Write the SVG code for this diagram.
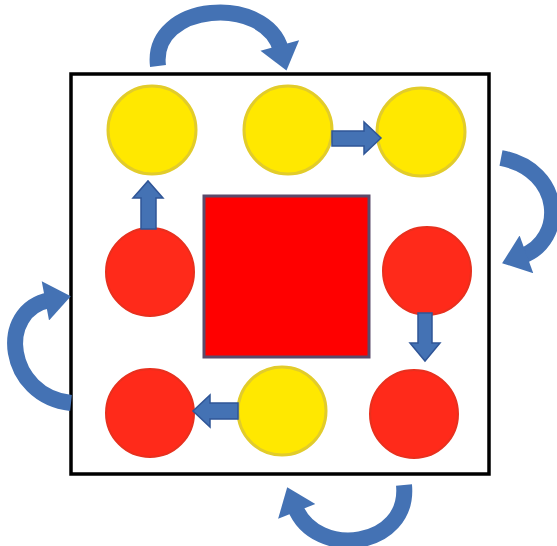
<svg xmlns="http://www.w3.org/2000/svg" width="557" height="546" viewBox="0 0 557 546">
<defs>
<style>
.y{fill:#ffe800;stroke:#e2cc2a;stroke-width:3}
.r{fill:#ff2a1a;stroke:#e8301e;stroke-width:2}
.arc{fill:none;stroke:#4472b4;stroke-width:16;stroke-linecap:butt}
.sa{fill:#4472b4;stroke:#2f5597;stroke-width:1.5}
</style>
<marker id="ah" markerUnits="userSpaceOnUse" markerWidth="40" markerHeight="40" refX="4" refY="17" orient="auto" viewBox="0 0 24 34">
<path d="M0,0 L22,17 L0,34 Z" fill="#4472b4"/>
</marker>
</defs>
<rect width="557" height="546" fill="#ffffff"/>
<rect id="frame" x="71" y="74" width="418" height="400" fill="none" stroke="#000" stroke-width="3.5"/>
<g id="center"><rect x="204" y="196" width="165" height="161" fill="#ff0000" stroke="#5b4a6b" stroke-width="3"/></g>
<g id="n1"><circle class="y" cx="152" cy="130" r="44"/></g>
<g id="n2"><circle class="y" cx="288" cy="130" r="44"/></g>
<g id="n3"><circle class="y" cx="421" cy="132" r="44"/></g>
<g id="n4"><circle class="r" cx="150" cy="272" r="44"/></g>
<g id="n5"><circle class="r" cx="427" cy="271" r="44"/></g>
<g id="n6"><circle class="r" cx="150" cy="413" r="44"/></g>
<g id="n7"><circle class="y" cx="282" cy="411" r="44"/></g>
<g id="n8"><circle class="r" cx="414" cy="414" r="44"/></g>
<g id="connectors">
<polygon class="sa" points="332,131 364,131 364,122 381,138 364,154 364,146 332,146"/>
<polygon class="sa" points="141,229 141,198 133,198 148,181 163,198 156,198 156,229"/>
<polygon class="sa" points="418,313 418,343 410,343 425,361 440,343 432,343 432,313"/>
<polygon class="sa" points="238,403 210,403 210,395 193,411 210,427 210,419 238,419"/>
<path class="arc" marker-end="url(#ah)" d="M158,66 C150,2 266,-6 281,50"/>
<path class="arc" marker-end="url(#ah)" d="M501,158 C564,170 566,240 522,256"/>
<path class="arc" marker-end="url(#ah)" d="M71,403 C6,396 -4,310 50,300"/>
<path class="arc" marker-end="url(#ah)" d="M404,485 C410,548 316,560 295,507"/>
</g>
</svg>
